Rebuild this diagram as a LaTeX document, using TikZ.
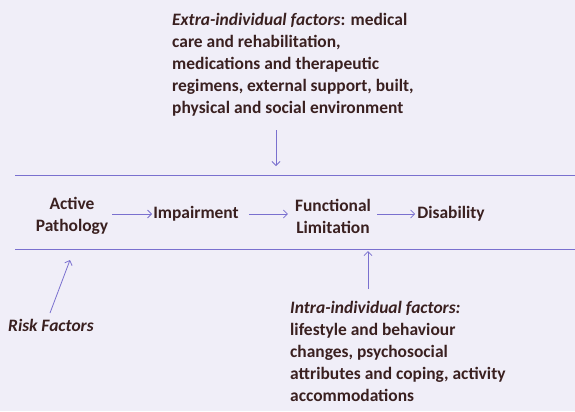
\documentclass[tikz,border=0pt]{standalone}
\usepackage{fontspec}
\setmainfont{Carlito}
\usetikzlibrary{arrows.meta}
\definecolor{bgc}{HTML}{F0EEF8}
\definecolor{txt}{HTML}{3A2020}
\definecolor{lnc}{HTML}{7A70CF}
\begin{document}
\begin{tikzpicture}[x=1bp,y=-1bp,
  lbl/.style={font=\fontsize{17.5}{22}\selectfont\bfseries, text=txt, inner sep=0pt},
  blk/.style={lbl, align=left, anchor=north west},
  mid/.style={lbl, align=center},
  arr/.style={draw=lnc, line width=0.8pt, -{Straight Barb[length=4pt,width=8pt]}},
  rule/.style={draw=lnc, line width=1pt}]
\fill[bgc] (0,0) rectangle (575,411);
\useasboundingbox (0,0) rectangle (575,411);
\node[blk] (extra) at (172,13) {\textit{Extra-individual factors}: medical\\care and rehabilitation,\\medications and therapeutic\\regimens, external support, built,\\physical and social environment};
\coordinate (ea) at (276,130);
\coordinate (eb) at (276,166);
\draw[arr] (ea) -- (eb);
\coordinate (t1) at (15,175);
\coordinate (t2) at (575,175);
\coordinate (b1) at (15,249);
\coordinate (b2) at (575,249);
\draw[rule] (t1) -- (t2);
\draw[rule] (b1) -- (b2);
\node[mid] (ap) at (72,216) {Active\\Pathology};
\node[mid] (imp) at (196,214) {Impairment};
\node[mid] (fl) at (333,216) {Functional\\Limitation};
\node[mid] (dis) at (451,214) {Disability};
\draw[arr, shorten <=4pt, shorten >=1pt] (ap.east |- imp.center) -- (imp.west);
\draw[arr, shorten <=10pt, shorten >=7pt] (imp.east) -- (imp.east -| fl.west);
\draw[arr, shorten <=6pt, shorten >=2pt] (fl.east |- dis.center) -- (dis.west);
\node[lbl, anchor=west] (risk) at (8,325) {\textit{Risk Factors}};
\coordinate (ra) at (50,313);
\coordinate (rb) at (70,260);
\draw[arr] (ra) -- (rb);
\coordinate (ia) at (368,289);
\coordinate (ib) at (368,251);
\draw[arr] (ia) -- (ib);
\node[blk] (intra) at (290,301) {\textit{Intra-individual factors:}\\lifestyle and behaviour\\changes, psychosocial\\attributes and coping, activity\\accommodations};
\end{tikzpicture}
\end{document}
